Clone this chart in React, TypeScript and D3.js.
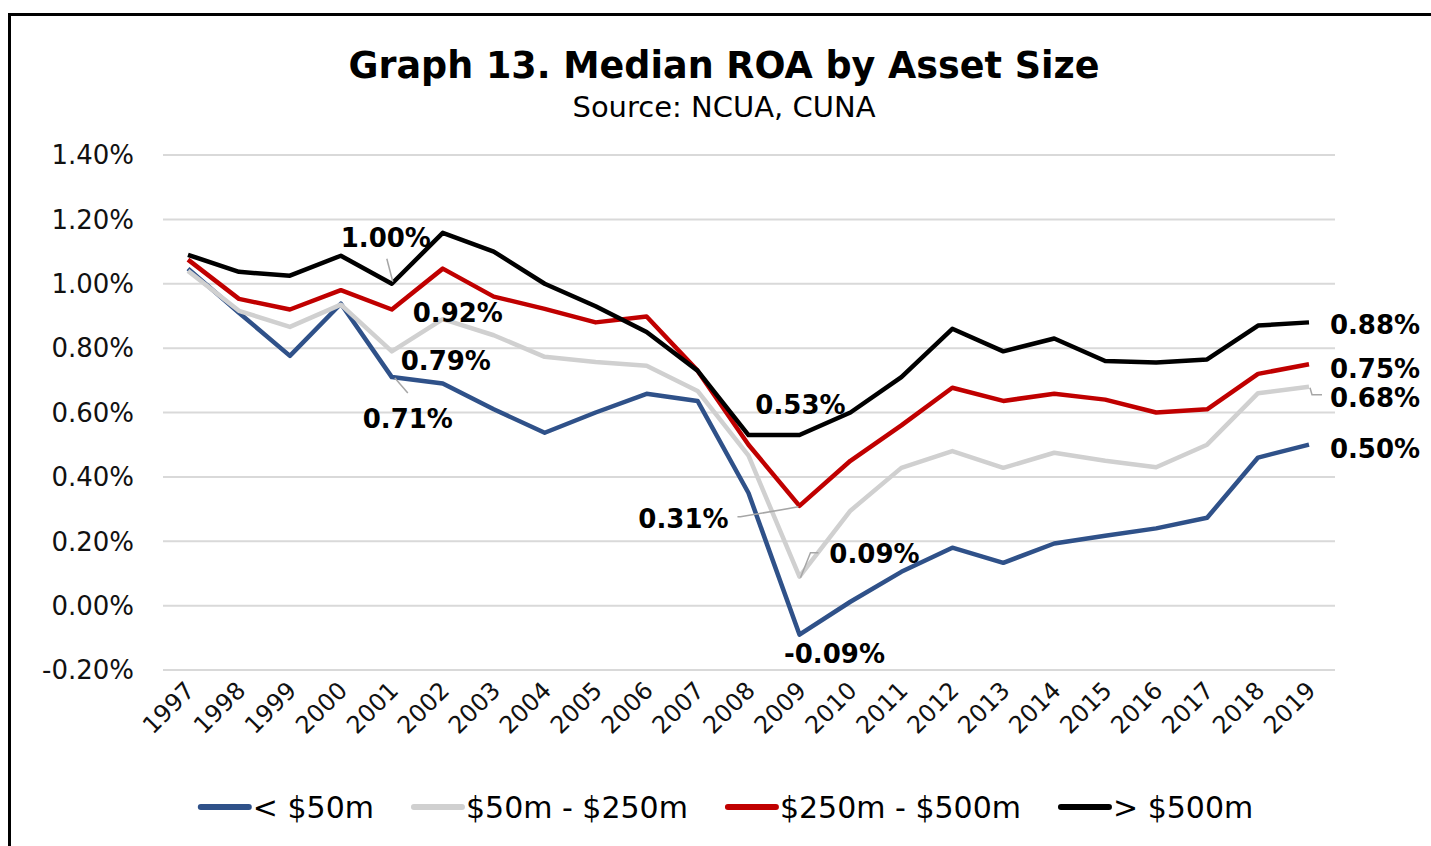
import React, { useRef, useEffect } from 'react'
import * as d3 from 'd3'

const years = [
  '1997', '1998', '1999', '2000', '2001', '2002', '2003', '2004', '2005', '2006', '2007', '2008',
  '2009', '2010', '2011', '2012', '2013', '2014', '2015', '2016', '2017', '2018', '2019',
]
const under50 = [1.047, 0.91, 0.776, 0.938, 0.71, 0.69, 0.61, 0.537, 0.6, 0.658, 0.636, 0.35,
  -0.09, 0.012, 0.105, 0.18, 0.133, 0.193, 0.217, 0.24, 0.273, 0.46, 0.5]
const from50to250 = [1.04, 0.916, 0.866, 0.935, 0.79, 0.89, 0.84, 0.773, 0.757, 0.745, 0.667, 0.466,
  0.09, 0.295, 0.428, 0.48, 0.428, 0.475, 0.45, 0.43, 0.5, 0.66, 0.68]
const from250to500 = [1.075, 0.953, 0.92, 0.98, 0.92, 1.047, 0.96, 0.922, 0.88, 0.898, 0.73, 0.5,
  0.31, 0.45, 0.56, 0.677, 0.636, 0.658, 0.64, 0.6, 0.61, 0.72, 0.75]
const over500 = [1.09, 1.037, 1.025, 1.087, 1.0, 1.158, 1.1, 1.0, 0.93, 0.85, 0.73, 0.53,
  0.53, 0.6, 0.71, 0.86, 0.79, 0.83, 0.76, 0.755, 0.765, 0.87, 0.88]
const yTicks = [-0.2, 0, 0.2, 0.4, 0.6, 0.8, 1.0, 1.2, 1.4]

const series = [
  { name: '< $50m', values: under50, color: '#2f5189' },
  { name: '$50m - $250m', values: from50to250, color: '#d0d0d0' },
  { name: '$250m - $500m', values: from250to500, color: '#c00000' },
  { name: '> $500m', values: over500, color: '#000000' },
]

// data labels: series index, year, label offset from the point, optional leader
const labels = [
  { s: 3, year: '2001', dx: -6, dy: -46, leader: [[1, -2], [-5, -25]] },
  { s: 2, year: '2001', dx: 66, dy: 3 },
  { s: 1, year: '2001', dx: 54, dy: 9 },
  { s: 0, year: '2001', dx: 16, dy: 42, leader: [[3, 1], [16, 16]] },
  { s: 3, year: '2009', dx: 1, dy: -30 },
  { s: 2, year: '2009', dx: -116, dy: 13, leader: [[-1, 1], [-59, 11], [-62, 11]] },
  { s: 1, year: '2009', dx: 75, dy: -23, leader: [[1, 1], [11, -24], [19, -24]] },
  { s: 0, year: '2009', dx: 35, dy: 19 },
  { s: 3, year: '2019', dx: 66, dy: 2 },
  { s: 2, year: '2019', dx: 66, dy: 4 },
  { s: 1, year: '2019', dx: 66, dy: 11, leader: [[1, 1], [3, 8], [13, 8]] },
  { s: 0, year: '2019', dx: 66, dy: 4 },
]

const FONT = '"DejaVu Sans", sans-serif'
const pct = (v: number) => d3.format('.2f')(v).replace('\u2212', '-') + '%'

export default function App() {
  const ref = useRef<SVGSVGElement>(null)
  const width = 1431
  const height = 846

  useEffect(() => {
    const svg = d3.select(ref.current)
    svg.selectAll('*').remove()

    // frame (only top and left edges are visible)
    svg.append('rect')
      .attr('x', 9.5).attr('y', 14.5)
      .attr('width', width + 20).attr('height', height + 20)
      .attr('fill', 'white').attr('stroke', '#000').attr('stroke-width', 3)

    svg.append('text')
      .attr('x', 724).attr('y', 78)
      .attr('text-anchor', 'middle')
      .attr('font-family', FONT).attr('font-weight', 'bold').attr('font-size', 36.5)
      .text('Graph 13. Median ROA by Asset Size')
    svg.append('text')
      .attr('x', 724).attr('y', 117)
      .attr('text-anchor', 'middle')
      .attr('font-family', FONT).attr('font-size', 29)
      .text('Source: NCUA, CUNA')

    const x = d3.scalePoint().domain(years).range([188, 1309])
    const y = d3.scaleLinear().domain([-0.2, 1.4]).range([670, 155])

    // gridlines
    svg.append('g')
      .selectAll('line')
      .data(yTicks)
      .join('line')
      .attr('x1', 163).attr('x2', 1335)
      .attr('y1', (d) => y(d)).attr('y2', (d) => y(d))
      .attr('stroke', '#d9d9d9').attr('stroke-width', 2)

    // y axis labels
    svg.append('g')
      .selectAll('text')
      .data(yTicks)
      .join('text')
      .attr('x', 134).attr('y', (d) => y(d))
      .attr('dy', '0.36em')
      .attr('text-anchor', 'end')
      .attr('font-family', FONT).attr('font-size', 26).attr('fill', '#111')
      .text((d) => pct(d))

    // x axis labels
    svg.append('g')
      .selectAll('text')
      .data(years)
      .join('text')
      .attr('transform', (d) => `translate(${x(d)! + 8},${692}) rotate(-45)`)
      .attr('text-anchor', 'end')
      .attr('font-family', FONT).attr('font-size', 24).attr('fill', '#111')
      .text((d) => d)

    const line = d3.line<number>()
      .x((d, i) => x(years[i])!)
      .y((d) => y(d))

    svg.append('g')
      .selectAll('path')
      .data(series)
      .join('path')
      .attr('d', (d) => line(d.values))
      .attr('fill', 'none')
      .attr('stroke', (d) => d.color)
      .attr('stroke-width', 4.5)
      .attr('stroke-linejoin', 'round')

    // data labels
    const lg = svg.append('g')
    labels.forEach((l) => {
      const i = years.indexOf(l.year)
      const v = series[l.s].values[i]
      const px = x(l.year)!
      const py = y(v)
      if (l.leader) {
        lg.append('path')
          .attr('d', d3.line()(l.leader.map((p) => [px + p[0], py + p[1]] as [number, number])))
          .attr('fill', 'none').attr('stroke', '#a6a6a6').attr('stroke-width', 1.5)
      }
      lg.append('text')
        .attr('x', px + l.dx).attr('y', py + l.dy)
        .attr('dy', '0.36em')
        .attr('text-anchor', 'middle')
        .attr('font-family', FONT).attr('font-weight', 'bold').attr('font-size', 26)
        .text(pct(v))
    })

    // legend
    const legend = svg.append('g')
    const items = series.map((s) => {
      const g = legend.append('g')
      g.append('line')
        .attr('x1', 0).attr('x2', 48).attr('y1', 0).attr('y2', 0)
        .attr('stroke', s.color).attr('stroke-width', 6).attr('stroke-linecap', 'round')
      const t = g.append('text')
        .attr('x', 52).attr('dy', '0.36em')
        .attr('font-family', FONT).attr('font-size', 30)
        .text(s.name)
      const w = 52 + (t.node() as SVGTextElement).getComputedTextLength()
      return { g, w }
    })
    const gap = 40
    const total = d3.sum(items, (d) => d.w) + gap * (items.length - 1)
    let cx = 727 - total / 2
    items.forEach((it) => {
      it.g.attr('transform', `translate(${cx},${807})`)
      cx += it.w + gap
    })
  }, [])

  return (
    <svg
      ref={ref}
      width={width}
      height={height}
      style={{ position: 'absolute', left: 0, top: 0, background: 'white' }}
    ></svg>
  )
}
